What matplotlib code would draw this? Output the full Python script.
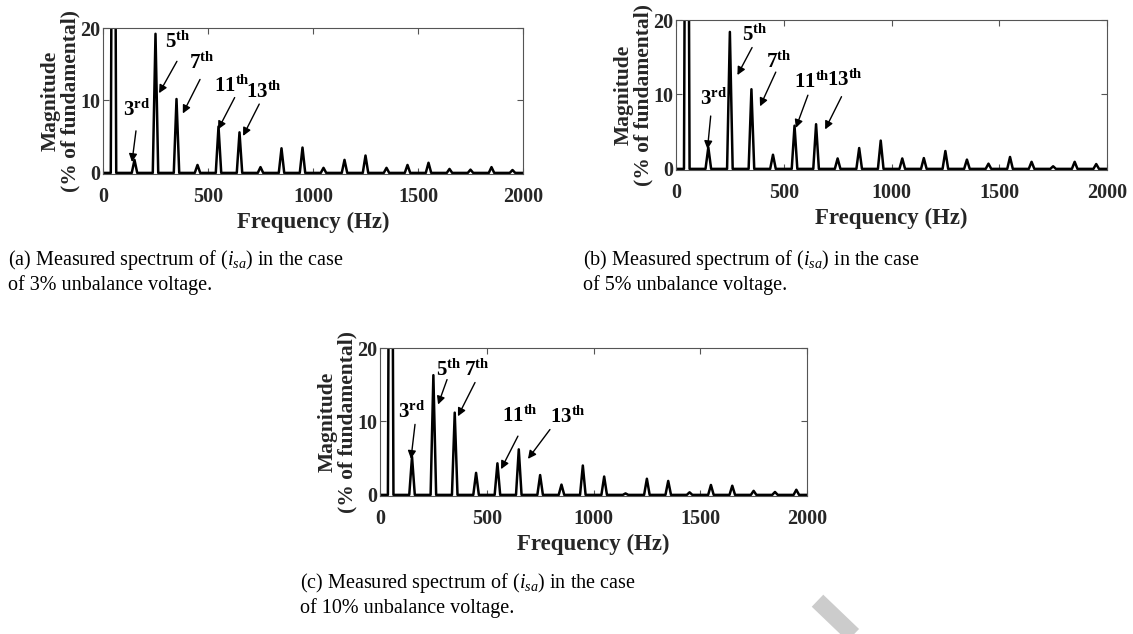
import matplotlib
matplotlib.use('Agg')
import matplotlib.pyplot as plt
from matplotlib.lines import Line2D

plt.rcParams['font.family'] = ['Liberation Serif', 'DejaVu Serif']
plt.rcParams['mathtext.fontset'] = 'custom'
plt.rcParams['mathtext.rm'] = 'Liberation Serif'
plt.rcParams['mathtext.it'] = 'Liberation Serif:italic'
plt.rcParams['mathtext.bf'] = 'Liberation Serif:bold'

# harmonic frequencies (Hz), fundamental first
freqs = [50, 150, 250, 350, 450, 550, 650, 750, 850, 950, 1050,
         1150, 1250, 1350, 1450, 1550, 1650, 1750, 1850, 1950]

# magnitudes (% of fundamental)
mag_3pct = [100, 1.8, 19.2, 10.2, 1.1, 6.4, 5.6, 0.8, 3.4, 3.5, 0.7,
            1.8, 2.4, 0.7, 1.1, 1.4, 0.55, 0.45, 0.8, 0.4]
mag_5pct = [100, 2.9, 18.4, 10.7, 1.9, 5.8, 6.0, 1.4, 2.8, 3.8, 1.4,
            1.45, 2.4, 1.25, 0.7, 1.6, 0.95, 0.35, 0.95, 0.65]
mag_10pct = [100, 5.2, 16.3, 11.2, 3.0, 4.3, 6.2, 2.7, 1.4, 4.0, 2.5,
             0.2, 2.2, 1.9, 0.35, 1.35, 1.25, 0.55, 0.4, 0.7]

harmonic_labels = ['3$^{\\mathbf{rd}}$', '5$^{\\mathbf{th}}$', '7$^{\\mathbf{th}}$',
                   '11$^{\\mathbf{th}}$', '13$^{\\mathbf{th}}$']

captions = [
    ['(a) Measured spectrum of $(i_{sa})$ in the case', 'of 3% unbalance voltage.'],
    ['(b) Measured spectrum of $(i_{sa})$ in the case', 'of 5% unbalance voltage.'],
    ['(c) Measured spectrum of $(i_{sa})$ in the case', 'of 10% unbalance voltage.'],
]

# annotation layout per panel: (text xy, arrow start, arrow tip) in data units
notes_a = [((162, 8.6), (157, 5.8), (138, 1.5)),
           ((357, 18.0), (352, 15.4), (267, 11.0)),
           ((471, 15.2), (462, 12.9), (380, 8.2)),
           ((612, 11.9), (627, 10.4), (548, 6.0)),
           ((766, 11.1), (744, 9.5), (667, 5.1))]
notes_b = [((175, 9.3), (161, 7.1), (146, 2.65)),
           ((364, 17.9), (353, 16.3), (285, 12.6)),
           ((476, 14.3), (463, 13.0), (390, 8.4)),
           ((632, 11.7), (612, 9.9), (556, 5.5)),
           ((785, 11.9), (768, 9.7), (692, 5.3))]
notes_c = [((150, 11.2), (164, 9.6), (145, 4.9)),
           ((323, 17.0), (314, 15.7), (272, 12.3)),
           ((454, 17.0), (445, 15.3), (365, 10.7)),
           ((656, 10.7), (646, 8.0), (567, 3.5)),
           ((880, 10.6), (796, 8.9), (693, 4.9))]


def spectrum(mags, half_width=13):
    # each harmonic drawn as one FFT bin with empty neighbour bins
    x, y = [0], [0]
    for f, m in zip(freqs, mags):
        x += [f - half_width, f, f + half_width]
        y += [0, m, 0]
    x.append(2000)
    y.append(0)
    return x, y


fig = plt.figure(figsize=(11.33, 6.34), dpi=100)

W, H = 1133.0, 634.0
# axes boxes in pixels: left, top, right, bottom
boxes = [(103, 28, 523, 174), (676, 20, 1107, 170), (380, 348, 807, 496)]
spines_col = '#555555'
txt_col = '#262626'

panels = [(mag_3pct, notes_a), (mag_5pct, notes_b), (mag_10pct, notes_c)]

for (l, t, r, b), (mags, notes) in zip(boxes, panels):
    ax = fig.add_axes([l / W, 1 - b / H, (r - l) / W, (b - t) / H])
    x, y = spectrum(mags)
    ax.plot(x, y, color='k', lw=1.8)
    ax.set_xlim(0, 2000)
    ax.set_ylim(-0.15, 20)
    ax.set_xticks([0, 500, 1000, 1500, 2000])
    ax.set_yticks([0, 10, 20])
    ax.tick_params(direction='in', top=True, right=True, length=4,
                   width=0.8, color=spines_col, labelsize=14.5,
                   labelcolor=txt_col)
    ax.tick_params(axis='x', pad=9)
    ax.tick_params(axis='y', pad=2)
    for lab in ax.get_xticklabels() + ax.get_yticklabels():
        lab.set_fontweight('bold')
    for s in ax.spines.values():
        s.set_color(spines_col)
        s.set_linewidth(0.8)
    ax.set_xlabel('Frequency (Hz)', fontsize=16.5, fontweight='bold',
                  color=txt_col, labelpad=4)
    ax.set_ylabel('Magnitude\n(% of fundamental)', fontsize=15.5,
                  fontweight='bold', color=txt_col, linespacing=0.95,
                  labelpad=0)

    for lab, (txy, a0, a1) in zip(harmonic_labels, notes):
        ax.text(txy[0], txy[1], lab, fontsize=15, fontweight='bold',
                ha='center', va='center', color='k')
        ax.annotate('', xy=a1, xytext=a0,
                    arrowprops=dict(arrowstyle='-|>', color='k', lw=1,
                                    mutation_scale=12, shrinkA=0, shrinkB=0))

# captions under each panel (pixel positions of first line)
cap_pos = [(8, 260), (583, 260), (300, 583)]
for (cx, cy), lines in zip(cap_pos, captions):
    fig.text(cx / W, 1 - cy / H, lines[0], fontsize=14.5, color='k',
             ha='left', va='center')
    fig.text(cx / W, 1 - (cy + 25) / H, lines[1], fontsize=14.5, color='k',
             ha='left', va='center')

# light grey draft watermark fragment in the lower right corner
fig.add_artist(Line2D([817.5 / W, 870 / W], [1 - 600.7 / H, 1 - 651 / H],
                      transform=fig.transFigure, color='#cccccc', lw=12,
                      solid_capstyle='butt'))

fig.savefig('out.png', dpi=100)
